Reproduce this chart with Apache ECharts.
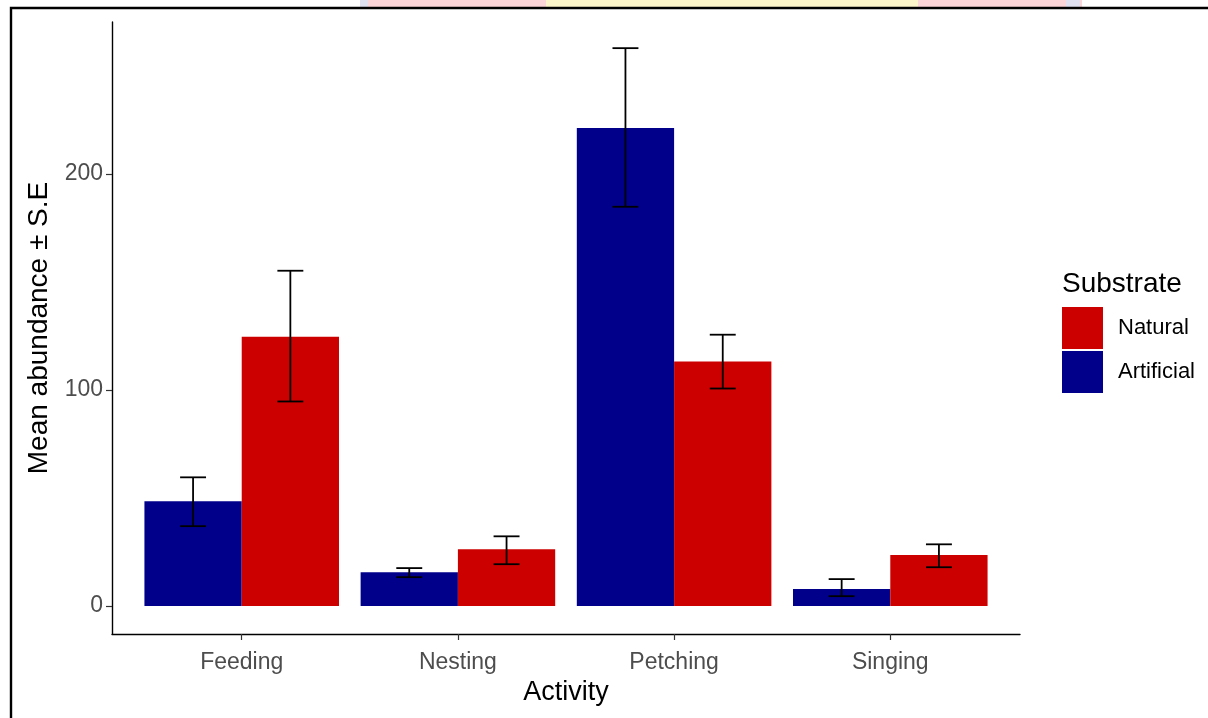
<!DOCTYPE html>
<html>
<head>
<meta charset="utf-8">
<script src="https://cdn.jsdelivr.net/npm/echarts@6/dist/echarts.min.js"></script>
<style>
html,body{margin:0;padding:0;background:#fff;}
#chart{width:1208px;height:718px;}
</style>
</head>
<body>
<div id="chart"></div>
<script>
var categories = ['Feeding', 'Nesting', 'Petching', 'Singing'];
var seriesNames = ['Artificial', 'Natural'];
var legendOrder = ['Natural', 'Artificial'];
var artificialMean = [48.5, 15.7, 221.2, 7.9];
var artificialLow  = [37.0, 13.4, 184.8, 4.6];
var artificialHigh = [59.6, 17.6, 258.2, 12.5];
var naturalMean = [124.7, 26.3, 113.2, 23.6];
var naturalLow  = [94.7, 19.4, 100.7, 18.0];
var naturalHigh = [155.2, 32.3, 125.6, 28.6];
var yTicks = [0, 100, 200];

var FONT = '"Liberation Sans", Arial, sans-serif';
var catPos = categories.map(function (c, i) { return i + 1; });
var dodge = 0.225;

function barData(means) {
  return means.map(function (v, i) { return [catPos[i], v]; });
}
var errData = [];
categories.forEach(function (c, i) {
  errData.push([catPos[i], artificialLow[i], artificialHigh[i], 0]);
  errData.push([catPos[i], naturalLow[i], naturalHigh[i], 1]);
});

var chart = echarts.init(document.getElementById('chart'), null, {renderer: 'canvas'});
chart.setOption({
  animation: false,
  backgroundColor: '#ffffff',
  textStyle: {fontFamily: FONT},
  title: {
    text: 'Substrate',
    left: 1062, top: 270, padding: 0,
    textStyle: {fontFamily: FONT, fontSize: 28, fontWeight: 'normal', color: '#000'}
  },
  legend: {
    data: legendOrder,
    orient: 'vertical',
    left: 1062, top: 307, padding: 0,
    icon: 'rect',
    itemWidth: 41, itemHeight: 42, itemGap: 2,
    textStyle: {fontFamily: FONT, fontSize: 22, color: '#000', padding: [6, 0, 0, 10]}
  },
  grid: {left: 112, top: 22, right: 188, bottom: 84, containLabel: false},
  xAxis: {
    type: 'value', min: 0.4, max: 4.6,
    name: 'Activity', nameLocation: 'middle', nameGap: 42,
    nameTextStyle: {fontFamily: FONT, fontSize: 27, color: '#000'},
    axisLine: {show: true, onZero: false, lineStyle: {color: '#000', width: 1.4}},
    axisTick: {show: true, length: 6, customValues: catPos, lineStyle: {color: '#333', width: 1.2}},
    axisLabel: {
      customValues: catPos, margin: 17,
      fontFamily: FONT, fontSize: 23, color: '#4d4d4d',
      formatter: function (v) { return categories[Math.round(v) - 1] || ''; }
    },
    splitLine: {show: false}
  },
  yAxis: {
    type: 'value', min: -12.9, max: 270.3,
    name: 'Mean abundance ± S.E', nameLocation: 'middle', nameGap: 56, nameRotate: 90,
    nameTextStyle: {fontFamily: FONT, fontSize: 28, color: '#000'},
    axisLine: {show: true, onZero: false, lineStyle: {color: '#000', width: 1.4}},
    axisTick: {show: true, length: 6, customValues: yTicks, lineStyle: {color: '#333', width: 1.2}},
    axisLabel: {customValues: yTicks, margin: 9, fontFamily: FONT, fontSize: 23, color: '#4d4d4d'},
    splitLine: {show: false}
  },
  series: [
    {
      name: 'Artificial', type: 'bar', data: barData(artificialMean),
      barWidth: '45%', barGap: '0%',
      itemStyle: {color: '#00008b'}
    },
    {
      name: 'Natural', type: 'bar', data: barData(naturalMean),
      barWidth: '45%', barGap: '0%',
      itemStyle: {color: '#cd0000'}
    },
    {
      name: 'err', type: 'custom', data: errData, z: 10,
      encode: {x: 0, y: [1, 2]},
      renderItem: function (params, api) {
        var x = api.value(0) + (api.value(3) === 0 ? -dodge : dodge);
        var lo = api.coord([x, api.value(1)]);
        var hi = api.coord([x, api.value(2)]);
        var l = api.coord([x - 0.06, api.value(1)]);
        var r = api.coord([x + 0.06, api.value(1)]);
        var style = {stroke: '#000', lineWidth: 1.8};
        return {
          type: 'group',
          children: [
            {type: 'line', shape: {x1: lo[0], y1: lo[1], x2: hi[0], y2: hi[1]}, style: style},
            {type: 'line', shape: {x1: l[0], y1: lo[1], x2: r[0], y2: lo[1]}, style: style},
            {type: 'line', shape: {x1: l[0], y1: hi[1], x2: r[0], y2: hi[1]}, style: style}
          ]
        };
      }
    }
  ],
  graphic: [
    {type: 'rect', shape: {x: 362, y: 0, width: 720, height: 7}, style: {fill: '#fcd5d8'}, silent: true},
    {type: 'rect', shape: {x: 546, y: 0, width: 372, height: 7}, style: {fill: '#fdf5ca'}, silent: true},
    {type: 'rect', shape: {x: 360, y: 0, width: 8, height: 7}, style: {fill: '#dfe0f0'}, silent: true},
    {type: 'rect', shape: {x: 1066, y: 0, width: 14, height: 7}, style: {fill: '#dfe0f0'}, silent: true},
    {type: 'rect', shape: {x: 11, y: 8, width: 1220, height: 730}, style: {fill: null, stroke: '#000', lineWidth: 2.4}, silent: true}
  ]
});
</script>
</body>
</html>
